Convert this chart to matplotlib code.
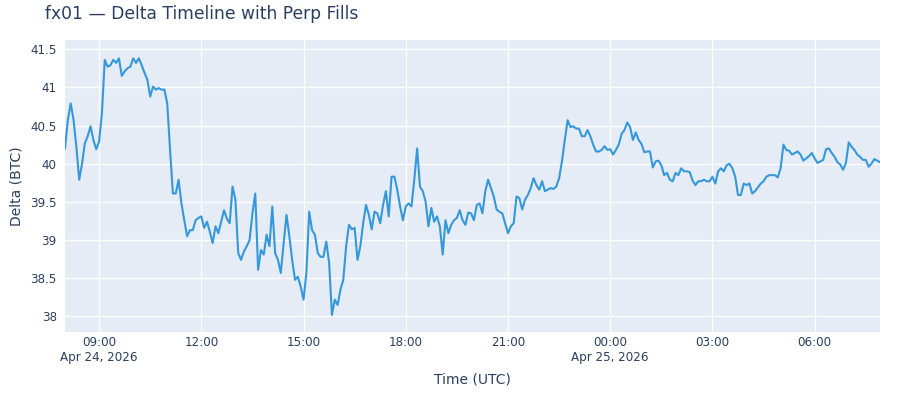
import matplotlib
matplotlib.use("Agg")
import matplotlib.pyplot as plt
import matplotlib.dates as mdates
import numpy as np
import pandas as pd

# delta samples, every 5 minutes from Apr 24 2026 08:00 UTC
start_time = "2026-04-24 08:00"
step = "5min"
delta_btc = [
    40.20, 40.57, 40.79, 40.58, 40.22, 39.79, 40.00, 40.27, 40.36, 40.49,
    40.31, 40.19, 40.29, 40.66, 41.36, 41.27, 41.29, 41.36, 41.32, 41.38,
    41.15, 41.21, 41.25, 41.27, 41.38, 41.32, 41.38, 41.29, 41.19, 41.10,
    40.88, 41.01, 40.97, 40.99, 40.97, 40.97, 40.79, 40.18, 39.61, 39.61,
    39.79, 39.48, 39.26, 39.05, 39.13, 39.13, 39.26, 39.29,
    39.31, 39.16, 39.24, 39.11, 38.96, 39.18, 39.09, 39.24, 39.39, 39.28,
    39.22, 39.70, 39.53, 38.83, 38.74, 38.85, 38.92, 39.00, 39.35, 39.61,
    38.61, 38.87, 38.81, 39.07, 38.92, 39.44, 38.83, 38.74, 38.57, 38.96,
    39.33, 39.05, 38.74, 38.48, 38.52, 38.39, 38.22, 38.57, 39.37, 39.13,
    39.07, 38.83, 38.78, 38.78, 38.98, 38.71, 38.02, 38.22,
    38.15, 38.35, 38.48, 38.92, 39.20, 39.14, 39.16, 38.74, 38.92, 39.22,
    39.46, 39.33, 39.14, 39.37, 39.35, 39.22, 39.46, 39.64, 39.31, 39.83,
    39.83, 39.66, 39.44, 39.26, 39.44, 39.48, 39.44, 39.79, 40.20, 39.70,
    39.64, 39.50, 39.18, 39.42, 39.24, 39.31, 39.18, 38.81, 39.26, 39.09,
    39.20, 39.26, 39.29, 39.39, 39.26, 39.20, 39.36,
    39.35, 39.26, 39.46, 39.48, 39.35, 39.64, 39.79, 39.68, 39.57, 39.40,
    39.37, 39.35, 39.22, 39.09, 39.18, 39.22, 39.57, 39.55, 39.40, 39.53,
    39.59, 39.68, 39.81, 39.72, 39.66, 39.77, 39.64, 39.66, 39.68, 39.67,
    39.70, 39.81, 40.03, 40.31, 40.57, 40.48, 40.49, 40.46, 40.46, 40.36,
    40.36, 40.44, 40.36, 40.25, 40.16, 40.16, 40.18, 40.23,
    40.18, 40.19, 40.12, 40.18, 40.25, 40.39, 40.44, 40.54, 40.48, 40.31,
    40.41, 40.31, 40.26, 40.15, 40.16, 40.16, 39.95, 40.03, 40.04, 39.98,
    39.85, 39.88, 39.79, 39.77, 39.88, 39.85, 39.94, 39.90, 39.90, 39.89,
    39.78, 39.72, 39.77, 39.77, 39.79, 39.77, 39.77, 39.83, 39.74, 39.90,
    39.94, 39.90, 39.98, 40.00, 39.94, 39.83, 39.59,
    39.59, 39.74, 39.72, 39.74, 39.61, 39.64, 39.69, 39.74, 39.77, 39.83,
    39.85, 39.85, 39.85, 39.82, 39.94, 40.25, 40.18, 40.17, 40.12, 40.14,
    40.16, 40.12, 40.04, 40.07, 40.10, 40.14, 40.07, 40.01, 40.03, 40.05,
    40.19, 40.20, 40.14, 40.09, 40.02, 39.99, 39.92, 40.01, 40.28, 40.22,
    40.18, 40.12, 40.09, 40.05, 40.05, 39.96, 40.00, 40.06, 40.04, 40.02,
]
y_ticks = [38, 38.5, 39, 39.5, 40, 40.5, 41, 41.5]
y_range = (37.80, 41.62)

times = pd.date_range(start_time, periods=len(delta_btc), freq=step)

text_color = "#2a3f5f"
plt.rcParams["font.family"] = "DejaVu Sans"
plt.rcParams["text.color"] = text_color
plt.rcParams["xtick.color"] = text_color
plt.rcParams["ytick.color"] = text_color

fig = plt.figure(figsize=(9, 4), dpi=100, facecolor="white")
ax = fig.add_axes([65 / 900, 1 - 331.7 / 400, 815 / 900, 291.7 / 400])
ax.set_facecolor("#E5ECF6")

ax.plot(times, delta_btc, color="#3498db", linewidth=1.5, zorder=3)

ax.set_xlim(times[0], times[-1])
ax.set_ylim(*y_range)
ax.set_yticks(y_ticks)
ax.set_yticklabels([f"{v:g}" for v in y_ticks])

ax.xaxis.set_major_locator(mdates.HourLocator(byhour=range(0, 24, 3)))


def fmt_time(x, pos=None):
    d = mdates.num2date(x)
    label = d.strftime("%H:%M")
    if pos == 0 or (d.hour == 0 and d.minute == 0):
        label += "\n" + d.strftime("%b %d, %Y")
    return label


ax.xaxis.set_major_formatter(plt.FuncFormatter(fmt_time))

ax.grid(True, color="white", linewidth=1.0, zorder=0)
ax.set_axisbelow(True)
for s in ax.spines.values():
    s.set_visible(False)
ax.tick_params(axis="x", length=0, labelsize=8.6, pad=3)
ax.tick_params(axis="y", length=0, labelsize=8.6, pad=6)
for lbl in ax.get_xticklabels():
    lbl.set_linespacing(1.25)

ax.set_xlabel("Time (UTC)", fontsize=10, color=text_color, labelpad=6)
ax.set_ylabel("Delta (BTC)", fontsize=10, color=text_color, labelpad=5)

fig.text(45 / 900, 1 - 14 / 400, "fx01 — Delta Timeline with Perp Fills",
         fontsize=12.3, color=text_color, ha="left", va="center")

fig.savefig("out.png", dpi=100, facecolor=fig.get_facecolor())
plt.close(fig)
